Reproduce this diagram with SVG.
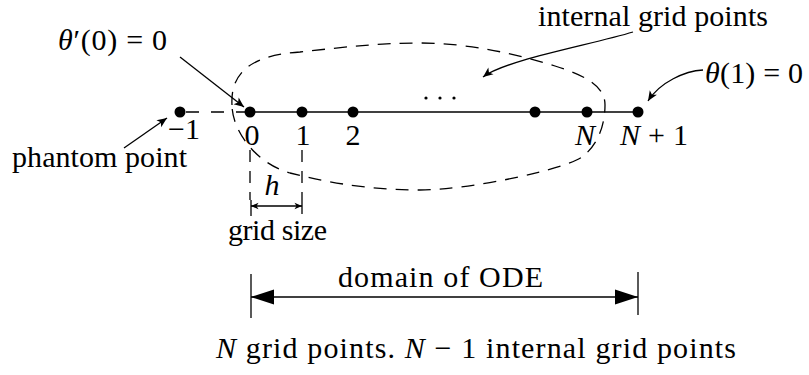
<svg xmlns="http://www.w3.org/2000/svg" width="809" height="375" viewBox="0 0 809 375">
<defs>
<style>
text { font-family: "Liberation Serif", "Times New Roman", serif; font-size: 30px; fill: #000; }
.it { font-style: italic; }
.ln { stroke: #000; stroke-width: 1.3; fill: none; }
.dash { stroke-dasharray: 13 9; }
.dot { fill: #000; }
</style>
<marker id="ah" markerUnits="userSpaceOnUse" viewBox="-11 -5 12 10" refX="0" refY="0" markerWidth="12" markerHeight="10" orient="auto">
<path d="M0,0 L-10,-4.2 L-7.5,0 L-10,4.2 Z" fill="#000"/>
</marker>
<marker id="ahs" markerUnits="userSpaceOnUse" viewBox="-8 -4 9 8" refX="0" refY="0" markerWidth="9" markerHeight="8" orient="auto-start-reverse">
<path d="M0,0 L-7.5,-3.2 L-5.5,0 L-7.5,3.2 Z" fill="#000"/>
</marker>
<marker id="ahb" markerUnits="userSpaceOnUse" viewBox="-24 -8 25 16" refX="0" refY="0" markerWidth="25" markerHeight="16" orient="auto-start-reverse">
<path d="M0,0 L-23,-7.5 L-23,7.5 Z" fill="#000"/>
</marker>
</defs>

<g id="region">
<path class="ln dash" d="M232,105 C230,70 255,55 300,52 C345,47 380,43 420,43 C470,43 520,55 555,66 C590,77 605,88 605,105 C605,125 598,145 582,157 C566,169 470,190 420,190 C360,190 320,180 290,173 C255,163 232,130 232,105 Z"/>
</g>

<g id="axis">
<line class="ln" x1="186" y1="112" x2="250" y2="112" style="stroke-dasharray:13 12"/>
<line class="ln" x1="250" y1="112" x2="638" y2="112"/>
</g>

<g id="node-m1"><circle class="dot" cx="180" cy="112" r="5.5"/><text x="184" y="139" text-anchor="middle" font-size="27">−1</text></g>
<g id="node-0"><circle class="dot" cx="250" cy="112" r="5.5"/><text x="252" y="145" text-anchor="middle">0</text></g>
<g id="node-1"><circle class="dot" cx="302" cy="112" r="5.5"/><text x="303" y="145" text-anchor="middle">1</text></g>
<g id="node-2"><circle class="dot" cx="353" cy="112" r="5.5"/><text x="353" y="145" text-anchor="middle">2</text></g>
<g id="node-dots"><circle class="dot" cx="426" cy="98" r="1.6"/><circle class="dot" cx="440" cy="98" r="1.6"/><circle class="dot" cx="454" cy="98" r="1.6"/></g>
<g id="node-nm1"><circle class="dot" cx="535" cy="112" r="5.5"/></g>
<g id="node-N"><circle class="dot" cx="587" cy="112" r="5.5"/><text class="it" x="585" y="145" text-anchor="middle">N</text></g>
<g id="node-N1"><circle class="dot" cx="638" cy="112" r="5.5"/><text x="620" y="145" textLength="68" lengthAdjust="spacing"><tspan class="it">N</tspan> + 1</text></g>

<g id="labels">
<text x="58" y="50" textLength="109" lengthAdjust="spacing"><tspan class="it">θ</tspan>′(0) = 0</text>
<text x="705" y="83" textLength="98" lengthAdjust="spacing"><tspan class="it">θ</tspan>(1) = 0</text>
<text x="538" y="26" font-size="28" textLength="230" lengthAdjust="spacing">internal grid points</text>
<text x="12" y="167" textLength="175" lengthAdjust="spacing">phantom point</text>
<text class="it" x="272" y="195" text-anchor="middle">h</text>
<text x="228" y="240" textLength="99" lengthAdjust="spacing">grid size</text>
<text x="338" y="287" textLength="205" lengthAdjust="spacing">domain of ODE</text>
<text x="216" y="358" textLength="520" lengthAdjust="spacing"><tspan class="it">N</tspan> grid points. <tspan class="it">N</tspan> − 1 internal grid points</text>
</g>

<g id="connectors">
<line class="ln" x1="180" y1="57" x2="244" y2="107" marker-end="url(#ah)"/>
<line class="ln" x1="124" y1="148" x2="167" y2="118" marker-end="url(#ah)"/>
<path class="ln" d="M633,32 C590,45 505,60 483,77" marker-end="url(#ah)"/>
<path class="ln" d="M703,70 C685,71 660,82 648,101" marker-end="url(#ah)"/>
<line class="ln" x1="250" y1="150" x2="250" y2="200" style="stroke-dasharray:12 9"/>
<line class="ln" x1="302" y1="150" x2="302" y2="200" style="stroke-dasharray:12 9"/>
<line class="ln" x1="251" y1="200" x2="251" y2="216"/>
<line class="ln" x1="302" y1="200" x2="302" y2="214"/>
<line class="ln" x1="251" y1="206" x2="302" y2="206" marker-start="url(#ahs)" marker-end="url(#ahs)"/>
<line class="ln" x1="251" y1="274" x2="251" y2="318"/>
<line class="ln" x1="638" y1="272" x2="638" y2="315"/>
<line class="ln" x1="251" y1="297" x2="638" y2="297" style="stroke-width:1.6" marker-start="url(#ahb)" marker-end="url(#ahb)"/>
</g>
</svg>
